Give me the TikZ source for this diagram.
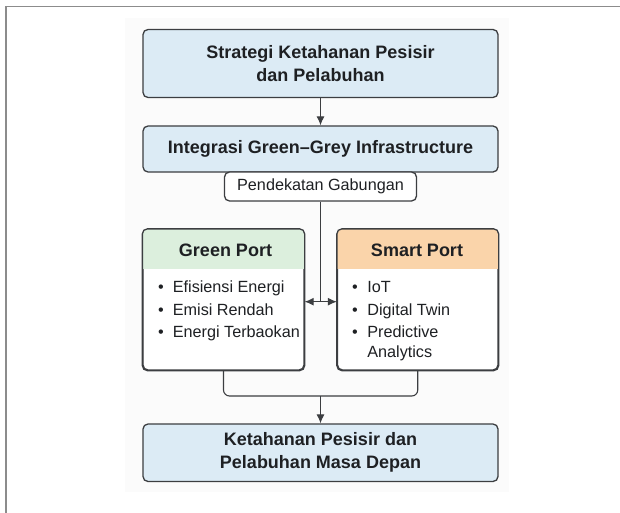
\documentclass[tikz,border=0pt]{standalone}
\usepackage{fontspec}
\setmainfont{Liberation Sans}
\usetikzlibrary{arrows.meta}
\definecolor{bluefill}{RGB}{220,235,245}
\definecolor{greenfill}{RGB}{220,239,221}
\definecolor{orangefill}{RGB}{250,212,170}
\definecolor{edge}{RGB}{60,62,65}
\definecolor{txt}{RGB}{30,32,35}
\definecolor{framecol}{RGB}{140,140,140}
\definecolor{bgpanel}{RGB}{251,251,251}
\begin{document}
\begin{tikzpicture}[x=1pt,y=-1pt,
  box/.style={draw=edge,line width=1.3pt,rounded corners=5pt,inner sep=0pt,align=center,text=txt},
  title/.style={font=\fontsize{18}{23}\selectfont\bfseries,text=txt},
  body/.style={font=\fontsize{16.2}{22.5}\selectfont,text=txt,inner sep=0pt},
  conn/.style={draw=edge,line width=1.1pt},
  arr/.style={conn,-{Latex[length=9pt,width=8pt]}},
  arrboth/.style={conn,{Latex[length=9pt,width=8pt]}-{Latex[length=9pt,width=8pt]}}]
\useasboundingbox (0,0) rectangle (620,513);
\fill[bgpanel] (125,18) rectangle (509,492);
\draw[framecol,line width=1.5pt] (6,513) -- (6,6.5) -- (620,6.5);

% main boxes
\node[box,fill=bluefill,title,minimum width=355pt,minimum height=68pt] (top) at (320.5,63.5) {Strategi Ketahanan Pesisir\\dan Pelabuhan};
\node[box,fill=bluefill,title,minimum width=355pt,minimum height=46pt] (int) at (320.5,149) {Integrasi Green–Grey Infrastructure};
\node[box,fill=white,body,minimum width=192pt,minimum height=29pt] (pend) at (320.5,186.5) {Pendekatan Gabungan};

% port boxes
\node[box,fill=white,minimum width=161pt,minimum height=140.5pt] (green) at (223.5,299.75) {};
\node[box,fill=white,minimum width=160.5pt,minimum height=140.5pt] (smart) at (417.75,299.75) {};
\begin{scope}
  \clip[rounded corners=5pt] (green.south west) rectangle (green.north east);
  \fill[greenfill] (green.north west) rectangle (304,268.5);
\end{scope}
\begin{scope}
  \clip[rounded corners=5pt] (smart.south west) rectangle (smart.north east);
  \fill[orangefill] (smart.north west) rectangle (498,268.5);
\end{scope}
\draw[edge,line width=1.3pt,rounded corners=5pt] (green.south west) rectangle (green.north east);
\draw[edge,line width=1.3pt,rounded corners=5pt] (smart.south west) rectangle (smart.north east);

\node[title] (greenhead) at (225.5,250) {Green Port};
\node[title] (smarthead) at (417,250) {Smart Port};

\node[body,anchor=base west] (greenlist) at (158,292.7) {\begin{tabular}[t]{@{}l@{\hspace{9pt}}l@{}}
\textbullet & Efisiensi Energi\\
\textbullet & Emisi Rendah\\
\textbullet & Energi Terbaokan
\end{tabular}};
\node[body,anchor=base west] (smartlist) at (352,292.7) {\begin{tabular}[t]{@{}l@{\hspace{9.5pt}}l@{}}
\textbullet & IoT\\
\textbullet & Digital Twin\\
\textbullet & Predictive\\[-2.5pt]
 & Analytics
\end{tabular}};

% bottom box
\node[box,fill=bluefill,title,minimum width=355pt,minimum height=57.5pt] (bot) at (320.5,452.75) {Ketahanan Pesisir dan\\Pelabuhan Masa Depan};

% connectors
\coordinate (mid) at (320.5,301.7);
\coordinate (join) at (320.5,396);
\draw[arr] (top) -- (int);
\draw[conn] (pend.south) -- (mid);
\draw[arrboth] (green.east |- mid) -- (smart.west |- mid);
\draw[conn,rounded corners=6pt] (green.south) |- (join) -| (smart.south);
\draw[arr] (join) -- (bot.north);
\end{tikzpicture}
\end{document}
